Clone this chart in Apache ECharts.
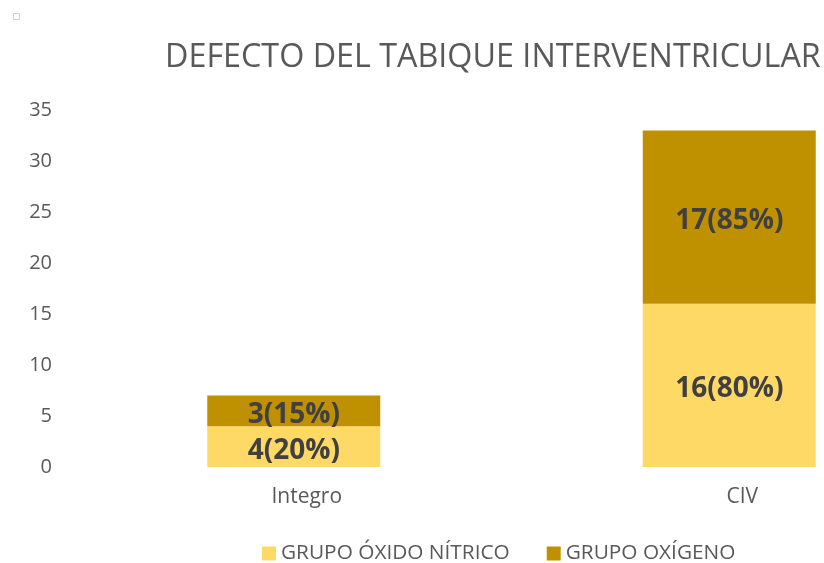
<!DOCTYPE html>
<html>
<head>
<meta charset="utf-8">
<script src="https://cdn.jsdelivr.net/npm/echarts@6/dist/echarts.min.js"></script>
<style>html,body{margin:0;padding:0;background:#fff}#c{width:824px;height:563px}</style>
</head>
<body>
<div id="c"></div>
<script>
var categories = ['Integro', 'CIV'];
var oxidoNitrico = [4, 16];
var oxigeno = [3, 17];
var pctOxidoNitrico = [20, 80];
var pctOxigeno = [15, 85];
var yTicks = [0, 5, 10, 15, 20, 25, 30, 35];

var FONT = 'Open Sans';
var chart = echarts.init(document.getElementById('c'), null, {renderer: 'canvas'});
function lbl(pcts) {
  return {
    show: true, position: 'inside', color: '#404040', fontWeight: 'bold',
    fontFamily: FONT, fontSize: 28, offset: [0, 4],
    formatter: function (p) { return p.value + '(' + pcts[p.dataIndex] + '%)'; }
  };
}
chart.setOption({
  animation: false,
  title: {
    text: 'DEFECTO DEL TABIQUE INTERVENTRICULAR',
    left: 160, top: 37,
    textStyle: {fontFamily: FONT, fontSize: 32.3, fontWeight: 'normal', color: '#595959'}
  },
  legend: {
    left: 257, top: 538, itemWidth: 14, itemHeight: 14, itemGap: 37,
    icon: 'rect',
    textStyle: {fontFamily: FONT, fontSize: 20.8, color: '#595959'},
    data: ['GRUPO ÓXIDO NÍTRICO', 'GRUPO OXÍGENO']
  },
  grid: {left: 76, top: 110, width: 871, height: 357, outerBoundsMode: 'none', containLabel: false},
  xAxis: {
    type: 'category', data: categories,
    axisLine: {show: false}, axisTick: {show: false},
    axisLabel: {fontFamily: FONT, fontSize: 21, color: '#595959', margin: 20, padding: [0, 0, 0, 26]}
  },
  yAxis: {
    type: 'value', min: yTicks[0], max: yTicks[yTicks.length - 1], interval: 5,
    axisLine: {show: false}, axisTick: {show: false}, splitLine: {show: false},
    axisLabel: {fontFamily: FONT, fontSize: 20, color: '#595959', margin: 24}
  },
  series: [
    {name: 'GRUPO ÓXIDO NÍTRICO', type: 'bar', stack: 't', data: oxidoNitrico, barWidth: 173,
     itemStyle: {color: '#FFD966'}, label: lbl(pctOxidoNitrico)},
    {name: 'GRUPO OXÍGENO', type: 'bar', stack: 't', data: oxigeno, barWidth: 173,
     itemStyle: {color: '#BF9000'}, label: lbl(pctOxigeno)}
  ],
  graphic: [
    {type: 'rect', left: 11, top: 11, shape: {width: 6, height: 6}, style: {fill: 'none', stroke: '#d0d0d0', lineWidth: 1}}
  ]
});
</script>
</body>
</html>
